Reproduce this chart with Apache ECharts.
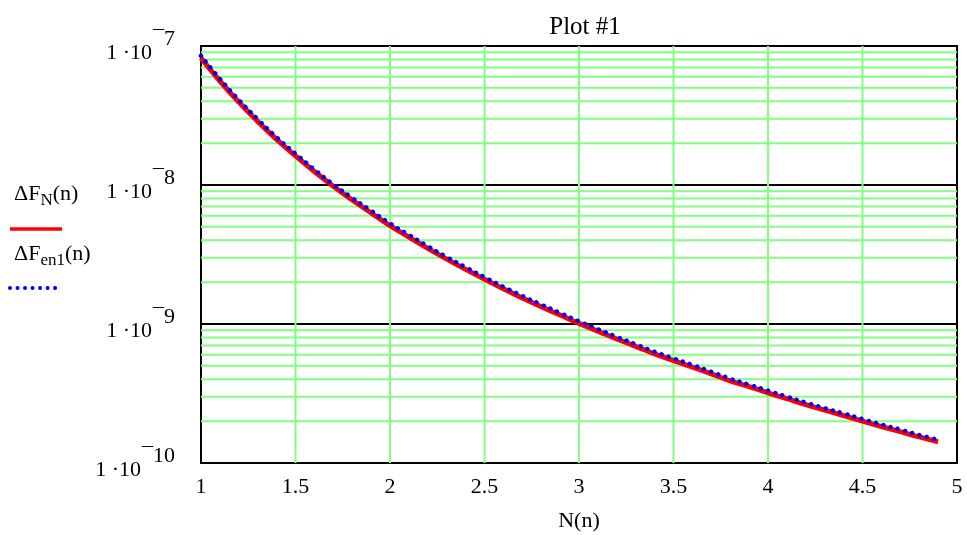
<!DOCTYPE html>
<html>
<head>
<meta charset="utf-8">
<script src="https://cdn.jsdelivr.net/npm/echarts@6/dist/echarts.min.js"></script>
<style>
  html, body { margin: 0; padding: 0; background: #fff; }
  #chart { width: 967px; height: 535px; }
</style>
</head>
<body>
<div id="chart"></div>
<script>
// n values (x axis)
const nValues = [1.0, 1.1, 1.2, 1.3, 1.4, 1.5, 1.6, 1.7, 1.8, 1.9,
  2.0, 2.1, 2.2, 2.3, 2.4, 2.5, 2.6, 2.7, 2.8, 2.9,
  3.0, 3.1, 3.2, 3.3, 3.4, 3.5, 3.6, 3.7, 3.8, 3.9,
  4.0, 4.1, 4.2, 4.3, 4.4, 4.5, 4.6, 4.7, 4.8, 4.9];

// ΔF_N(n) - red solid
const deltaFN = [8.2e-8, 5.6e-8, 3.95e-8, 2.87e-8, 2.13e-8, 1.62e-8, 1.25e-8, 9.8e-9, 7.8e-9, 6.3e-9,
  5.1e-9, 4.22e-9, 3.5e-9, 2.93e-9, 2.47e-9, 2.1e-9, 1.79e-9, 1.54e-9, 1.33e-9, 1.16e-9,
  1.01e-9, 8.88e-10, 7.8e-10, 6.91e-10, 6.1e-10, 5.46e-10, 4.9e-10, 4.38e-10, 3.9e-10, 3.54e-10,
  3.2e-10, 2.9e-10, 2.63e-10, 2.4e-10, 2.19e-10, 2.0e-10, 1.83e-10, 1.68e-10, 1.54e-10, 1.42e-10];

// ΔF_en1(n) - blue dotted
const deltaFen1 = [8.49e-8, 5.8e-8, 4.09e-8, 2.97e-8, 2.2e-8, 1.68e-8, 1.29e-8, 1.01e-8, 8.07e-9, 6.52e-9,
  5.28e-9, 4.37e-9, 3.62e-9, 3.03e-9, 2.56e-9, 2.17e-9, 1.85e-9, 1.59e-9, 1.38e-9, 1.2e-9,
  1.045e-9, 9.19e-10, 8.07e-10, 7.15e-10, 6.31e-10, 5.65e-10, 5.07e-10, 4.53e-10, 4.04e-10, 3.66e-10,
  3.31e-10, 3.0e-10, 2.72e-10, 2.48e-10, 2.27e-10, 2.07e-10, 1.89e-10, 1.74e-10, 1.59e-10, 1.47e-10];

// minor (green) grid values on the log axis
const minorY = [2e-10, 3e-10, 4e-10, 5e-10, 6e-10, 7e-10, 8e-10, 9e-10,
  2e-9, 3e-9, 4e-9, 5e-9, 6e-9, 7e-9, 8e-9, 9e-9,
  2e-8, 3e-8, 4e-8, 5e-8, 6e-8, 7e-8, 8e-8, 9e-8];
// vertical green grid values
const gridX = [1.5, 2, 2.5, 3, 3.5, 4, 4.5];

const xMin = 1, xMax = 5;
const yMin = 1e-10, yMax = 1e-7;

const FONT = '"Liberation Serif", "DejaVu Serif", serif';
const GREEN = '#80ff80';

const chart = echarts.init(document.getElementById('chart'));

// green grid as line segments separated by gaps
const gridData = [];
minorY.forEach(v => { gridData.push([xMin, v], [xMax, v], '-'); });
gridX.forEach(v => { gridData.push([v, yMin], [v, yMax], '-'); });

const option = {
  animation: false,
  title: {
    text: 'Plot #1',
    left: 580,
    textAlign: 'center',
    top: 10,
    textStyle: { fontFamily: FONT, fontSize: 25, fontWeight: 'normal', color: '#000' }
  },
  grid: {
    left: 201, right: 10, top: 46, bottom: 72,
    outerBoundsMode: 'none',
    show: true, borderColor: '#000', borderWidth: 2, backgroundColor: 'transparent'
  },
  xAxis: {
    type: 'value',
    min: xMin, max: xMax, interval: 0.5,
    name: 'N(n)',
    nameLocation: 'middle',
    nameGap: 47,
    nameTextStyle: { fontFamily: FONT, fontSize: 22, color: '#000' },
    axisLine: { lineStyle: { color: '#000', width: 2 } },
    axisTick: { show: false },
    splitLine: { show: false },
    axisLabel: {
      margin: 13,
      fontFamily: FONT, fontSize: 22, color: '#000',
      formatter: v => String(v)
    }
  },
  yAxis: {
    type: 'log',
    logBase: 10,
    min: yMin, max: yMax,
    axisLine: { show: true, lineStyle: { color: '#000', width: 2 } },
    axisTick: { show: false },
    splitLine: { show: true, lineStyle: { color: '#000', width: 2 } },
    axisLabel: {
      margin: 26,
      color: '#000',
      formatter: v => {
        const e = Math.round(Math.log10(v));
        return '{b|1 ·10}{e|\u00AF' + (-e) + '}';
      },
      rich: {
        b: { fontFamily: FONT, fontSize: 22, color: '#000', verticalAlign: 'bottom', lineHeight: 36 },
        e: { fontFamily: FONT, fontSize: 22, color: '#000', verticalAlign: 'top', lineHeight: 36, padding: [0, 0, 0, 1] }
      }
    }
  },
  graphic: [
    {
      type: 'text', left: 14, top: 183,
      style: {
        text: '{a|ΔF}{s|N}{a|(n)}',
        rich: {
          a: { fontFamily: FONT, fontSize: 22, fill: '#000', verticalAlign: 'middle', lineHeight: 30 },
          s: { fontFamily: FONT, fontSize: 17, fill: '#000', verticalAlign: 'bottom', lineHeight: 30 }
        }
      }
    },
    {
      type: 'line', shape: { x1: 10, y1: 229, x2: 62, y2: 229 },
      style: { stroke: '#ff0000', lineWidth: 3.5 }
    },
    {
      type: 'text', left: 14, top: 243,
      style: {
        text: '{a|ΔF}{s|en1}{a|(n)}',
        rich: {
          a: { fontFamily: FONT, fontSize: 22, fill: '#000', verticalAlign: 'middle', lineHeight: 30 },
          s: { fontFamily: FONT, fontSize: 17, fill: '#000', verticalAlign: 'bottom', lineHeight: 30 }
        }
      }
    },
    {
      type: 'line', shape: { x1: 10, y1: 288, x2: 62, y2: 288 },
      style: { stroke: '#0000ff', lineWidth: 4, lineDash: [0.01, 7.5], lineCap: 'round' }
    }
  ],
  series: [
    {
      // green grid lines
      type: 'line',
      z: 1,
      silent: true,
      showSymbol: false,
      connectNulls: false,
      data: gridData,
      lineStyle: { color: GREEN, width: 2 },
      emphasis: { disabled: true }
    },
    {
      name: 'ΔF_N(n)',
      type: 'line',
      z: 3,
      showSymbol: false,
      smooth: true,
      data: nValues.map((n, i) => [n, deltaFN[i]]),
      lineStyle: { color: '#ff0000', width: 5 }
    },
    {
      name: 'ΔF_en1(n)',
      type: 'line',
      z: 4,
      showSymbol: false,
      smooth: true,
      data: nValues.map((n, i) => [n, deltaFen1[i]]),
      lineStyle: { color: '#0000ff', width: 4.5, type: [0.01, 7.5], cap: 'round' }
    }
  ]
};

chart.setOption(option);
</script>
</body>
</html>
